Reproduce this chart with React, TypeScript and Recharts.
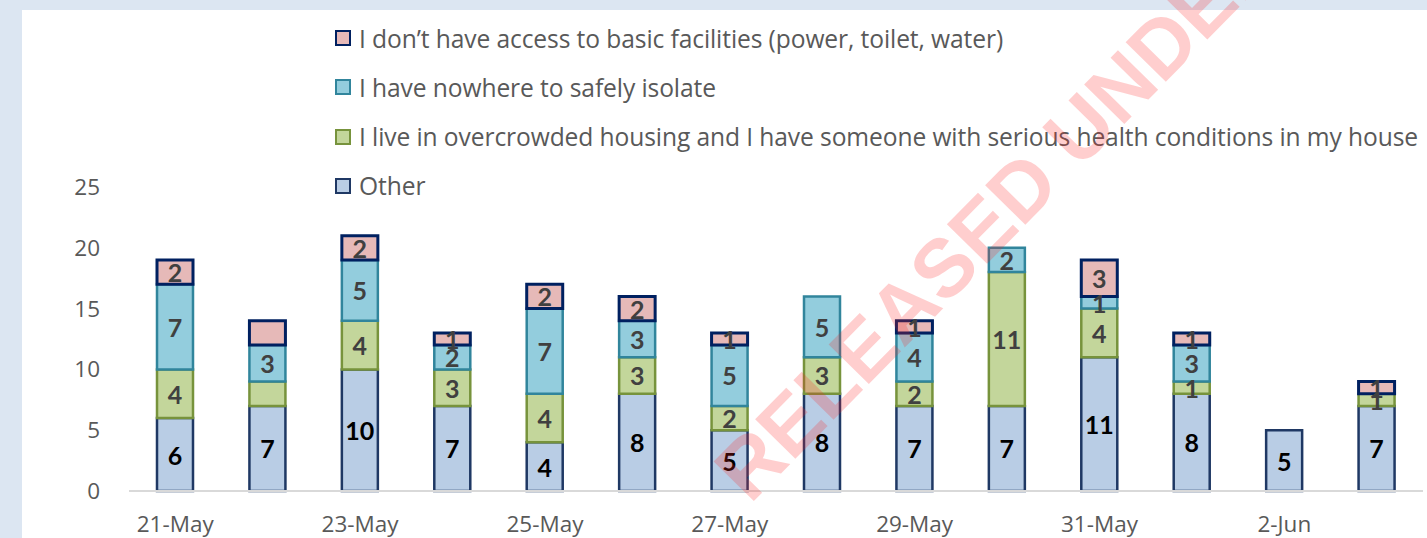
import React from "react";
import { Bar, BarChart, LabelList, XAxis, YAxis } from "recharts";

const dates = [
  "21-May", "22-May", "23-May", "24-May", "25-May", "26-May", "27-May",
  "28-May", "29-May", "30-May", "31-May", "1-Jun", "2-Jun", "3-Jun",
];
const other = [6, 7, 10, 7, 4, 8, 5, 8, 7, 7, 11, 8, 5, 7];
const crowded = [4, 2, 4, 3, 4, 3, 2, 3, 2, 11, 4, 1, 0, 1];
const isolate = [7, 3, 5, 2, 7, 3, 5, 5, 4, 2, 1, 3, 0, 0];
const facilities = [2, 2, 2, 1, 2, 2, 1, 0, 1, 0, 3, 1, 0, 1];
const yTicks = [0, 5, 10, 15, 20, 25];

// labels that Excel left out on the 22-May column
const hiddenLabels: Record<string, string[]> = {
  crowded: ["22-May"],
  facilities: ["22-May"],
};

const data = dates.map((d, i) => ({
  date: d,
  other: other[i],
  crowded: crowded[i],
  isolate: isolate[i],
  facilities: facilities[i],
}));

const series = [
  { key: "other", name: "Other", fill: "#b9cde5", stroke: "#1f3864", text: "#000000" },
  { key: "crowded", name: "I live in overcrowded housing and I have someone with serious health conditions in my house", fill: "#c3d69b", stroke: "#77933c", text: "#404040" },
  { key: "isolate", name: "I have nowhere to safely isolate", fill: "#93cddd", stroke: "#31859c", text: "#404040" },
  { key: "facilities", name: "I don’t have access to basic facilities (power, toilet, water)", fill: "#e6b9b8", stroke: "#002060", text: "#404040" },
];

const FONT = "'Open Sans', 'Noto Sans', sans-serif";
const LABEL_FONT = "Lato, 'Noto Sans', sans-serif";

const makeLabel = (key: string, color: string) => (props: any) => {
  const { x, y, width, height, value, index } = props;
  if (!value) return null;
  if ((hiddenLabels[key] || []).includes(dates[index])) return null;
  return (
    <text
      x={x + width / 2}
      y={y + height / 2}
      textAnchor="middle"
      dominantBaseline="central"
      fill={color}
      fontSize={25}
      fontWeight="bold"
      fontFamily={LABEL_FONT}
    >
      {value}
    </text>
  );
};

const App = () => {
  const legendRows = [...series].reverse();
  return (
    <div style={{ position: "absolute", left: 0, top: 0, width: 1427, height: 538, background: "#dce6f2", overflow: "hidden", fontFamily: FONT }}>
      <div style={{ position: "absolute", left: 22, top: 10, right: 0, bottom: 0, background: "#ffffff" }} />
      <div style={{ position: "absolute", left: 0, top: 0 }}>
        <BarChart
          width={1427}
          height={538}
          data={data}
          barSize={36}
          margin={{ top: 187, right: 4, left: 0, bottom: 0 }}
        >
          <XAxis
            dataKey="date"
            interval={1}
            tickLine={false}
            tickSize={0}
            tickMargin={25}
            height={47}
            axisLine={{ stroke: "#d9d9d9", strokeWidth: 2 }}
            tick={{ fill: "#595959", fontSize: 22.5, fontFamily: FONT }}
          />
          <YAxis
            domain={[0, 25]}
            ticks={yTicks}
            width={129}
            axisLine={false}
            tickLine={false}
            tickSize={0}
            tickMargin={29}
            tick={{ fill: "#595959", fontSize: 22.5, fontFamily: FONT }}
          />
          {series.map((s) => (
            <Bar
              key={s.key}
              dataKey={s.key}
              name={s.name}
              stackId="a"
              fill={s.fill}
              stroke={s.stroke}
              strokeWidth={s.key === "facilities" ? 3 : 2.5}
              isAnimationActive={false}
            >
              <LabelList dataKey={s.key} content={makeLabel(s.key, s.text)} />
            </Bar>
          ))}
        </BarChart>
      </div>
      {/* legend */}
      {legendRows.map((s, i) => (
        <div
          key={s.key}
          style={{ position: "absolute", left: 335, top: 38 + i * 49.3 - 16, height: 32, display: "flex", alignItems: "center", whiteSpace: "nowrap" }}
        >
          <span style={{ width: 12, height: 12, background: s.fill, border: `2px solid ${s.stroke}`, marginRight: 8 }} />
          <span style={{ color: "#595959", fontSize: 24.6, letterSpacing: -0.1 }}>{s.name}</span>
        </div>
      ))}
      {/* watermark */}
      <svg width={1427} height={538} style={{ position: "absolute", left: 0, top: 0, pointerEvents: "none" }}>
        <text
          x={750}
          y={505}
          transform="rotate(-45.5 750 505)"
          fontSize={82}
          fontWeight="bold"
          fontFamily="'Liberation Sans', Arial, sans-serif"
          fill="rgba(255, 30, 30, 0.22)"
        >
          RELEASED UNDER THE OFFICIAL INFORMATION ACT
        </text>
      </svg>
    </div>
  );
};

export default App;
